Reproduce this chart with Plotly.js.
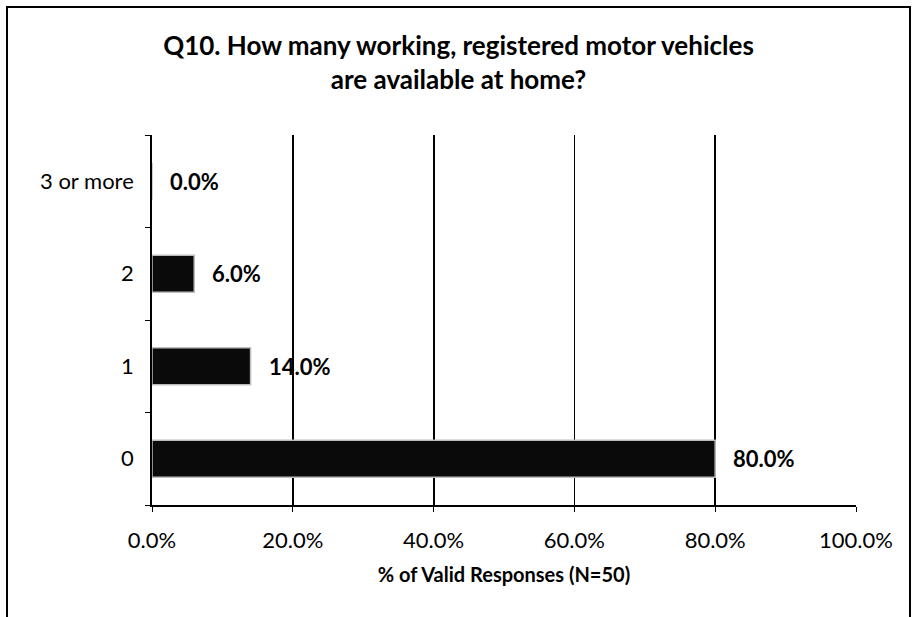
<!DOCTYPE html>
<html><head><meta charset="utf-8">
<script src="https://cdn.plot.ly/plotly-3.0.1.min.js"></script>
<style>html,body{margin:0;padding:0;background:#fff}#chart{width:917px;height:617px}</style>
</head><body><div id="chart"></div>
<script>
const categories = ["0", "1", "2", "3 or more"];
const values = [80.0, 14.0, 6.0, 0.0];
const labels = ["80.0%", "14.0%", "6.0%", "0.0%"];
const xTicks = [0, 20, 40, 60, 80, 100];
const xTickText = ["0.0%", "20.0%", "40.0%", "60.0%", "80.0%", "100.0%"];

const font = "Lato, 'Open Sans', sans-serif";
const trace = {
  type: "bar", orientation: "h",
  y: categories, x: values,
  marker: {color: "#0a0a0a", line: {color: "#bdbdbd", width: 1.5}},
  hoverinfo: "none"
};
const annotations = categories.map((c, i) => ({
  x: values[i], y: c, xref: "x", yref: "y",
  text: "<b>" + labels[i] + "</b>", showarrow: false,
  xanchor: "left", yanchor: "middle", xshift: 16,
  font: {family: font, size: 22, color: "#000"}
}));
const layout = {
  width: 917, height: 617,
  margin: {l: 152, r: 61, t: 135, b: 112},
  paper_bgcolor: "#fff", plot_bgcolor: "#fff",
  showlegend: false,
  bargap: 0.6,
  font: {family: font, color: "#000"},
  title: {text: "<b>Q10. How many working, registered motor vehicles<br>are available at home?</b>",
          font: {family: font, size: 26, color: "#000"}, x: 0.5, xanchor: "center", y: 0.911, yanchor: "middle"},
  xaxis: {range: [0, 100], tickvals: xTicks, ticktext: xTickText,
          showgrid: true, gridcolor: "#000", gridwidth: 1.8, zeroline: false,
          showline: true, linecolor: "#000", linewidth: 1.8,
          ticks: "outside", ticklen: 5, tickcolor: "#000",
          tickfont: {family: font, size: 22, color: "#000"}, ticklabelstandoff: 10,
          title: {text: "<b>% of Valid Responses (N=50)</b>", font: {family: font, size: 20, color: "#000"}, standoff: 16},
          fixedrange: true},
  yaxis: {type: "category", categoryorder: "array", categoryarray: categories,
          showline: true, linecolor: "#000", linewidth: 1.8,
          ticks: "outside", tickson: "boundaries", ticklen: 5, tickcolor: "#000",
          showgrid: false, zeroline: false,
          tickfont: {family: font, size: 22, color: "#000"}, ticklabelstandoff: 12,
          fixedrange: true},
  annotations: annotations,
  shapes: [{type: "rect", xref: "paper", yref: "paper",
            x0: (7-152)/704, x1: (910-152)/704, y0: -0.4, y1: (505-7)/370,
            line: {color: "#000", width: 2}, fillcolor: "rgba(0,0,0,0)", layer: "below"}]
};
Plotly.newPlot("chart", [trace], layout, {displayModeBar: false, staticPlot: true});
</script></body></html>
